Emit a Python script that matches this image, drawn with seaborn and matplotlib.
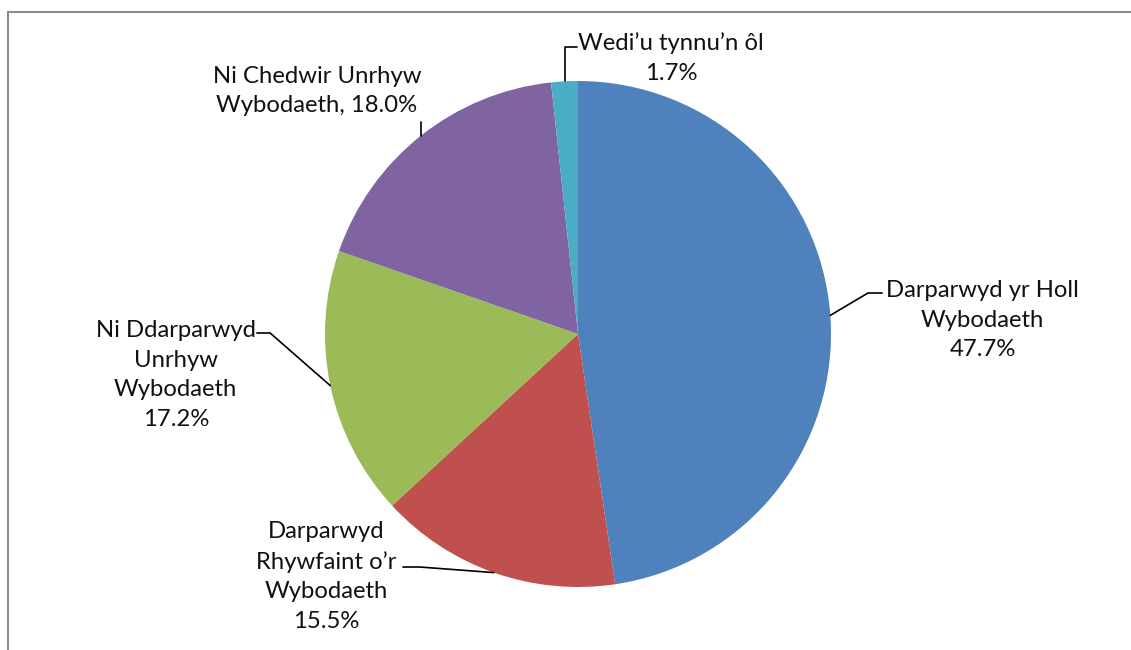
import numpy as np
import seaborn as sns
import matplotlib.pyplot as plt

# data
categories = ['Darparwyd yr Holl\nWybodaeth', 'Darparwyd\nRhywfaint o’r\nWybodaeth',
              'Ni Ddarparwyd\nUnrhyw\nWybodaeth', 'Ni Chedwir Unrhyw\nWybodaeth,',
              'Wedi’u tynnu’n ôl']
shares = [47.7, 15.5, 17.2, 18.0, 1.7]
colors = ['#4F81BD', '#C0504D', '#9BBB59', '#8064A2', '#4BACC6']

sns.set_theme(style='white')
plt.rcParams['font.family'] = ['Lato', 'DejaVu Sans']

fig = plt.figure(figsize=(11.31, 6.5), dpi=100)
ax = fig.add_axes([325 / 1131, 63 / 650, 506 / 1131, 506 / 650])

wedges, _ = ax.pie(shares, colors=colors, startangle=90, counterclock=False,
                   radius=1, wedgeprops=dict(linewidth=0))
ax.set_xlim(-1, 1)
ax.set_ylim(-1, 1)
ax.set_aspect('equal')
ax.axis('off')

# label layout: text centre, elbow, line end (data units, radius = 1)
text_pos = [(1.60, 0.055), (-0.996, -0.957), (-1.59, -0.162), (-1.032, 0.960), (0.368, 1.091)]
elbows = [(1.146, 0.162), (-0.625, -0.921), (-1.217, 0.004), (None, 0.838), (None, 1.134)]
ends = [(1.202, 0.162), (-0.692, -0.921), (-1.269, 0.004), None, (-0.004, 1.134)]

for i, w in enumerate(wedges):
    ang = np.deg2rad((w.theta1 + w.theta2) / 2)
    ex, ey = np.cos(ang), np.sin(ang)
    if i == 3:
        label = f'{categories[i]} {shares[i]:.1f}%'
    else:
        label = f'{categories[i]}\n{shares[i]:.1f}%'
    ax.text(*text_pos[i], label, ha='center', va='center', fontsize=17.2,
            linespacing=1.5, color='#111111', multialignment='center')
    bx, by = elbows[i]
    if bx is None:
        bx = ex
    xs, ys = [ex, bx], [ey, by]
    if ends[i] is not None:
        xs.append(ends[i][0])
        ys.append(ends[i][1])
    ax.plot(xs, ys, color='black', lw=1.2, clip_on=False)

# outer frame (top and left only visible)
fig.add_artist(plt.Line2D([8 / 1131, 8 / 1131], [0, 1 - 12 / 650], transform=fig.transFigure,
                          color='#8c8c8c', lw=1.5))
fig.add_artist(plt.Line2D([8 / 1131, 1], [1 - 12 / 650, 1 - 12 / 650], transform=fig.transFigure,
                          color='#8c8c8c', lw=1.5))

fig.savefig('out.png', dpi=100, facecolor='white')
